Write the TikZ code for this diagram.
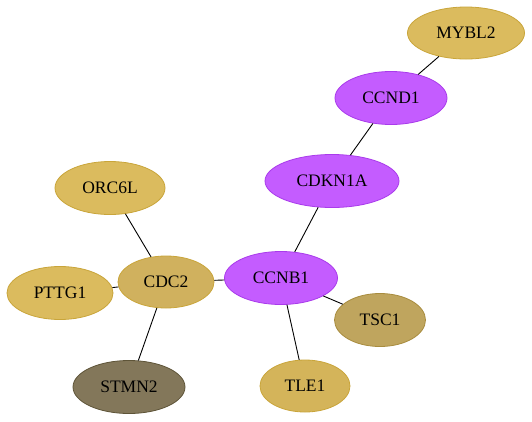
\documentclass[tikz,border=0pt]{standalone}
\usepackage{fontspec}
\setmainfont{Liberation Serif}
\usetikzlibrary{shapes.geometric}
\definecolor{gold}{HTML}{DBBB5E}
\definecolor{goldb}{HTML}{C9A53A}
\definecolor{cdc}{HTML}{D0B15E}
\definecolor{tle}{HTML}{D4B45A}
\definecolor{tsc}{HTML}{BFA55E}
\definecolor{tscb}{HTML}{A88C3E}
\definecolor{stmn}{HTML}{83775A}
\definecolor{stmnb}{HTML}{5E5438}
\definecolor{purp}{HTML}{C45CFF}
\definecolor{purpb}{HTML}{A93BEB}
\tikzset{
  gene/.style={ellipse, draw=goldb, line width=0.8pt, inner sep=0pt, font=\fontsize{17.5}{20}\selectfont},
  edge/.style={draw=black, line width=0.9pt}
}
\begin{document}
\begin{tikzpicture}[x=1pt,y=-1pt]
\useasboundingbox[fill=white] (0,0) rectangle (532,421);
\node[gene, fill=gold, minimum width=117pt, minimum height=52pt] (MYBL2) at (466,33) {MYBL2};
\node[gene, fill=purp, draw=purpb, minimum width=112pt, minimum height=53pt] (CCND1) at (391,98) {CCND1};
\node[gene, fill=purp, draw=purpb, minimum width=134pt, minimum height=53pt] (CDKN1A) at (332,181) {CDKN1A};
\node[gene, fill=purp, draw=purpb, minimum width=113pt, minimum height=53pt] (CCNB1) at (281,278) {CCNB1};
\node[gene, fill=tsc, draw=tscb, minimum width=91pt, minimum height=53pt] (TSC1) at (380,320) {TSC1};
\node[gene, fill=tle, minimum width=90pt, minimum height=52pt] (TLE1) at (305,386) {TLE1};
\node[gene, fill=cdc, minimum width=96pt, minimum height=52pt] (CDC2) at (166,282) {CDC2};
\node[gene, fill=gold, minimum width=110pt, minimum height=53pt] (ORC6L) at (110,188) {ORC6L};
\node[gene, fill=gold, minimum width=106pt, minimum height=53pt] (PTTG1) at (60,293) {PTTG1};
\node[gene, fill=stmn, draw=stmnb, minimum width=112pt, minimum height=53pt] (STMN2) at (129,387) {STMN2};
\begin{scope}[on background layer/.style={}]
\end{scope}
\draw[edge] (MYBL2) -- (CCND1);
\draw[edge] (CCND1) -- (CDKN1A);
\draw[edge] (CDKN1A) -- (CCNB1);
\draw[edge] (CCNB1) -- (CDC2);
\draw[edge] (CCNB1) -- (TSC1);
\draw[edge] (CCNB1) -- (TLE1);
\draw[edge] (CDC2) -- (ORC6L);
\draw[edge] (CDC2) -- (PTTG1);
\draw[edge] (CDC2) -- (STMN2);
\end{tikzpicture}
\end{document}
